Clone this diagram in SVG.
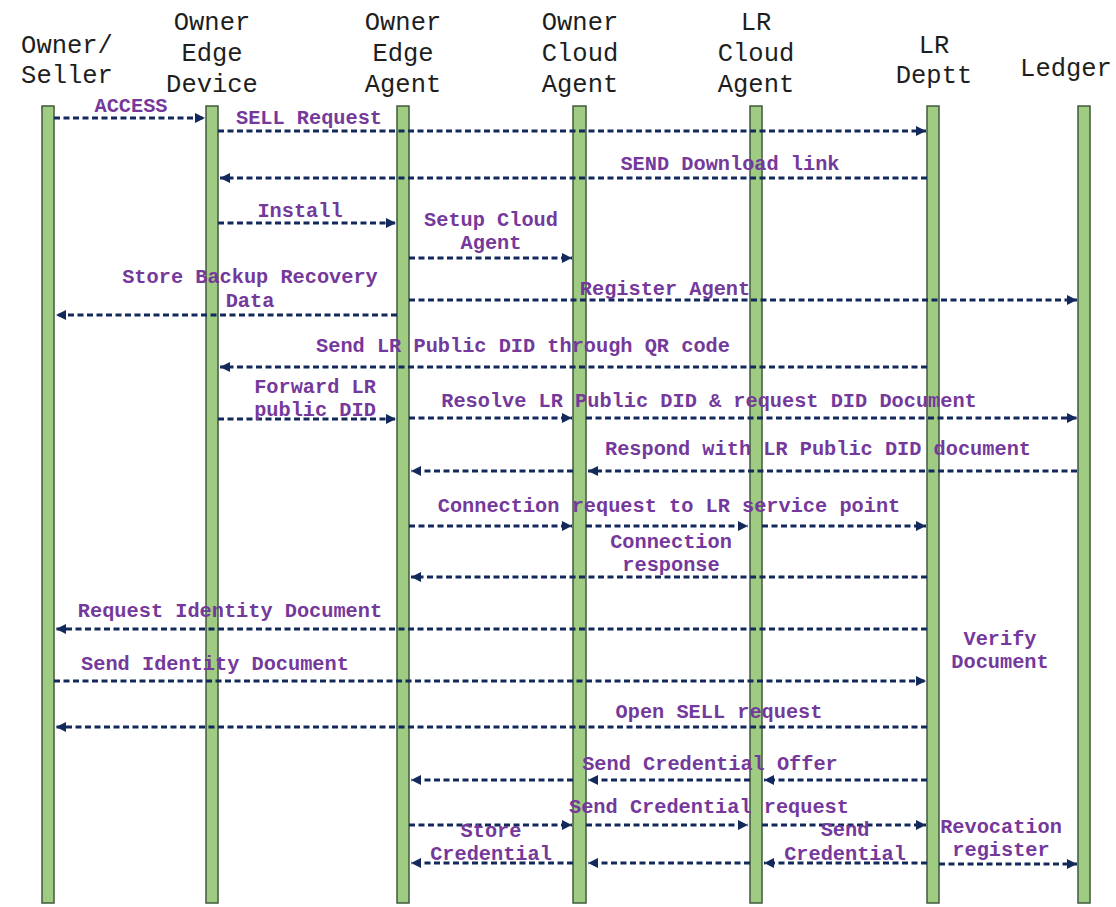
<svg xmlns="http://www.w3.org/2000/svg" width="1116" height="907" viewBox="0 0 1116 907">
<style>
.hd{font-family:"Liberation Mono","Courier New",monospace;font-size:25.5px;fill:#1e1e1e;text-anchor:middle}
.lb{font-family:"Liberation Mono","Courier New",monospace;font-size:20.3px;font-weight:bold;fill:#74399b;text-anchor:middle}
.bar{fill:#a0cb83;stroke:#3f5a3c;stroke-width:1.5}
.msg{stroke:#13295c;stroke-width:3;stroke-dasharray:6 3.5;fill:none}
.ar{marker-end:url(#ah)}
</style>
<defs>
<marker id="ah" markerUnits="userSpaceOnUse" markerWidth="11" markerHeight="11" refX="10" refY="5" orient="auto">
<path d="M0,0 L10,5 L0,10 z" fill="#13295c"/>
</marker>
</defs>
<rect width="1116" height="907" fill="#ffffff"/>

<g id="owner-seller">
<text class="hd" x="67" y="53">Owner/</text>
<text class="hd" x="67" y="83">Seller</text>
<rect class="bar" x="42" y="106" width="12" height="797"/>
</g>
<g id="owner-edge-device">
<text class="hd" x="212" y="30">Owner</text>
<text class="hd" x="212" y="61">Edge</text>
<text class="hd" x="212" y="92">Device</text>
<rect class="bar" x="206" y="106" width="12" height="797"/>
</g>
<g id="owner-edge-agent">
<text class="hd" x="403" y="30">Owner</text>
<text class="hd" x="403" y="61">Edge</text>
<text class="hd" x="403" y="92">Agent</text>
<rect class="bar" x="397" y="106" width="12" height="797"/>
</g>
<g id="owner-cloud-agent">
<text class="hd" x="580" y="30">Owner</text>
<text class="hd" x="580" y="61">Cloud</text>
<text class="hd" x="580" y="92">Agent</text>
<rect class="bar" x="573" y="106" width="13" height="797"/>
</g>
<g id="lr-cloud-agent">
<text class="hd" x="756" y="30">LR</text>
<text class="hd" x="756" y="61">Cloud</text>
<text class="hd" x="756" y="92">Agent</text>
<rect class="bar" x="750" y="106" width="12" height="797"/>
</g>
<g id="lr-deptt">
<text class="hd" x="934" y="53">LR</text>
<text class="hd" x="934" y="83">Deptt</text>
<rect class="bar" x="927" y="106" width="12" height="797"/>
</g>
<g id="ledger">
<text class="hd" x="1066" y="76">Ledger</text>
<rect class="bar" x="1078" y="106" width="12" height="797"/>
</g>

<g id="connectors">
<line class="msg ar" x1="54" y1="118" x2="205" y2="118"/>
<line class="msg ar" x1="218" y1="131" x2="926" y2="131"/>
<line class="msg ar" x1="927" y1="178" x2="220" y2="178"/>
<line class="msg ar" x1="218" y1="223" x2="396" y2="223"/>
<line class="msg ar" x1="409" y1="258" x2="572" y2="258"/>
<line class="msg ar" x1="409" y1="300" x2="1077" y2="300"/>
<line class="msg ar" x1="397" y1="315" x2="56" y2="315"/>
<line class="msg ar" x1="927" y1="367" x2="220" y2="367"/>
<line class="msg ar" x1="218" y1="419" x2="396" y2="419"/>
<line class="msg ar" x1="409" y1="418" x2="572" y2="418"/>
<line class="msg ar" x1="586" y1="418" x2="1077" y2="418"/>
<line class="msg ar" x1="1077" y1="471" x2="588" y2="471"/>
<line class="msg ar" x1="573" y1="471" x2="411" y2="471"/>
<line class="msg ar" x1="409" y1="526" x2="572" y2="526"/>
<line class="msg ar" x1="586" y1="526" x2="748" y2="526"/>
<line class="msg ar" x1="762" y1="526" x2="926" y2="526"/>
<line class="msg ar" x1="927" y1="577" x2="411" y2="577"/>
<line class="msg ar" x1="927" y1="629" x2="56" y2="629"/>
<line class="msg ar" x1="54" y1="681" x2="926" y2="681"/>
<line class="msg ar" x1="927" y1="727" x2="56" y2="727"/>
<line class="msg ar" x1="927" y1="780" x2="764" y2="780"/>
<line class="msg ar" x1="750" y1="780" x2="588" y2="780"/>
<line class="msg ar" x1="573" y1="780" x2="411" y2="780"/>
<line class="msg ar" x1="409" y1="825" x2="572" y2="825"/>
<line class="msg ar" x1="586" y1="825" x2="748" y2="825"/>
<line class="msg ar" x1="762" y1="825" x2="926" y2="825"/>
<line class="msg ar" x1="573" y1="863" x2="411" y2="863"/>
<line class="msg ar" x1="750" y1="863" x2="588" y2="863"/>
<line class="msg ar" x1="927" y1="863" x2="764" y2="863"/>
<line class="msg ar" x1="939" y1="864" x2="1077" y2="864"/>
</g>

<g id="labels">
<text class="lb" x="131" y="112">ACCESS</text>
<text class="lb" x="309" y="124">SELL Request</text>
<text class="lb" x="730" y="170">SEND Download link</text>
<text class="lb" x="300" y="217">Install</text>
<text class="lb" x="491" y="226">Setup Cloud</text>
<text class="lb" x="491" y="249">Agent</text>
<text class="lb" x="665" y="295">Register Agent</text>
<text class="lb" x="250" y="283">Store Backup Recovery</text>
<text class="lb" x="250" y="307">Data</text>
<text class="lb" x="523" y="352">Send LR Public DID through QR code</text>
<text class="lb" x="315" y="393">Forward LR</text>
<text class="lb" x="315" y="416">public DID</text>
<text class="lb" x="709" y="407">Resolve LR Public DID &amp; request DID Document</text>
<text class="lb" x="818" y="455">Respond with LR Public DID document</text>
<text class="lb" x="669" y="512">Connection request to LR service point</text>
<text class="lb" x="671" y="548">Connection</text>
<text class="lb" x="671" y="571">response</text>
<text class="lb" x="230" y="617">Request Identity Document</text>
<text class="lb" x="1000" y="645">Verify</text>
<text class="lb" x="1000" y="668">Document</text>
<text class="lb" x="215" y="670">Send Identity Document</text>
<text class="lb" x="719" y="718">Open SELL request</text>
<text class="lb" x="710" y="770">Send Credential Offer</text>
<text class="lb" x="709" y="813">Send Credential request</text>
<text class="lb" x="491" y="837">Store</text>
<text class="lb" x="491" y="860">Credential</text>
<text class="lb" x="845" y="836">Send</text>
<text class="lb" x="845" y="860">Credential</text>
<text class="lb" x="1001" y="833">Revocation</text>
<text class="lb" x="1001" y="856">register</text>
</g>
</svg>
